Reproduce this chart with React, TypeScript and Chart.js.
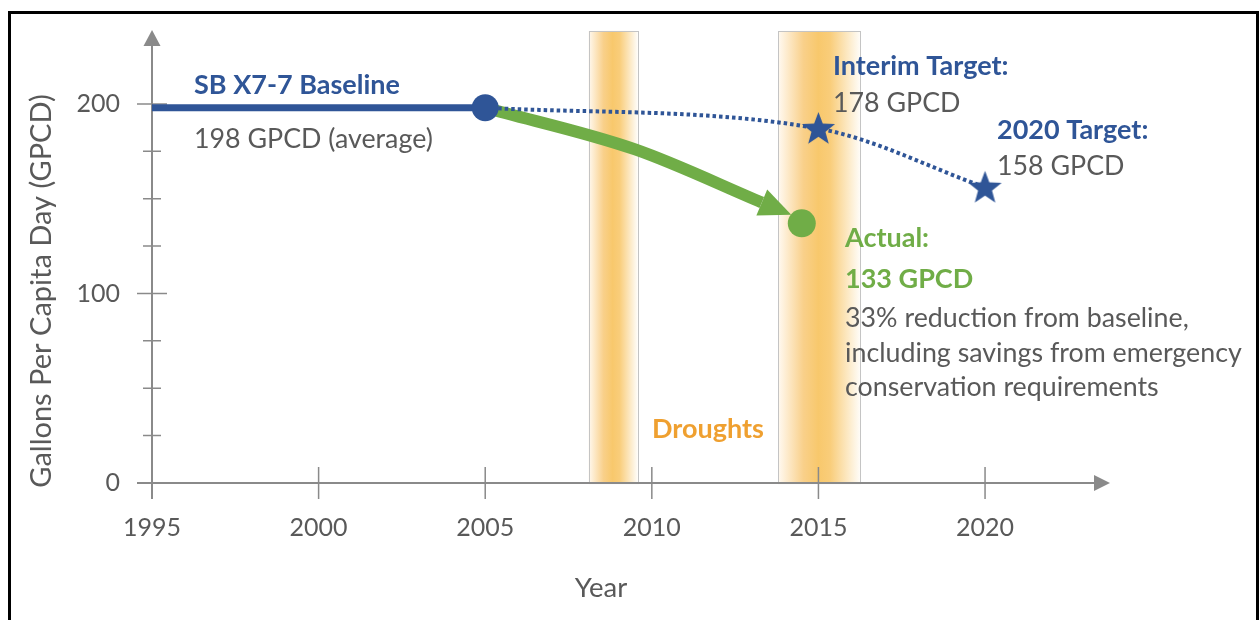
import React, { useEffect, useRef } from "react";
import { Chart, registerables } from "chart.js";

Chart.register(...registerables);

// ---- data ----
const baselineYears = [1995, 2005];
const baselineValues = [198, 198];
const targetYears = [2005, 2015, 2020];
const targetValues = [198, 187, 156];
const actualPathYears = [2005, 2009.5, 2013.3];
const actualPathValues = [198, 176, 148];
const actualPointYears = [2014.5];
const actualPointValues = [137];
const droughtStarts = [2008.1, 2013.8];
const droughtEnds = [2009.6, 2016.3];
const bandTop = 238.5;
const xTicks = [1995, 2000, 2005, 2010, 2015, 2020];
const yMajorTicks = [0, 100, 200];
const yMinorTicks = [25, 50, 75, 125, 150, 175];
const xMin = 1995;
const xMax = 2023.75;
const yMin = 0;
const yMax = 239;

const BLUE = "#2F5597";
const GREEN = "#70AD47";
const ORANGE = "#EFA030";
const GREY_TEXT = "#595959";
const AXIS = "#8A8A8A";
const FONT = "Lato, 'Open Sans', sans-serif";

function zip(xs: number[], ys: number[]) {
  return xs.map((x, i) => ({ x, y: ys[i] }));
}

function makeStar(r: number, color: string) {
  const c = document.createElement("canvas");
  const s = Math.ceil(r * 2 + 2);
  c.width = s;
  c.height = s;
  const ctx = c.getContext("2d")!;
  ctx.fillStyle = color;
  ctx.beginPath();
  const cx = s / 2;
  const cy = s / 2 + 1;
  const inner = r * 0.42;
  for (let i = 0; i < 10; i++) {
    const rad = i % 2 === 0 ? r : inner;
    const a = -Math.PI / 2 + (i * Math.PI) / 5;
    const px = cx + rad * Math.cos(a);
    const py = cy + rad * Math.sin(a);
    if (i === 0) ctx.moveTo(px, py);
    else ctx.lineTo(px, py);
  }
  ctx.closePath();
  ctx.fill();
  return c;
}

const decorPlugin = {
  id: "decor",
  beforeDatasetsDraw(chart: any) {
    const { ctx, scales } = chart;
    const x = scales.x;
    const y = scales.y;
    const x0 = x.getPixelForValue(xMin);
    const y0 = y.getPixelForValue(0);
    ctx.save();
    // drought bands
    droughtStarts.forEach((s, i) => {
      const l = x.getPixelForValue(s);
      const r = x.getPixelForValue(droughtEnds[i]);
      const t = y.getPixelForValue(bandTop);
      const g = ctx.createLinearGradient(l, 0, r, 0);
      g.addColorStop(0, "#FFF9F0");
      g.addColorStop(0.3, "#F9D08A");
      g.addColorStop(0.48, "#F8C86C");
      g.addColorStop(0.62, "#F9CD7A");
      g.addColorStop(1, "#FFFFFF");
      ctx.fillStyle = g;
      ctx.fillRect(l, t, r - l, y0 - t);
      ctx.strokeStyle = "#C4C4C4";
      ctx.lineWidth = 1;
      ctx.strokeRect(Math.round(l) + 0.5, Math.round(t) + 0.5, Math.round(r - l) - 1, y0 - t);
    });

    // axes
    ctx.strokeStyle = AXIS;
    ctx.fillStyle = AXIS;
    ctx.lineWidth = 2;
    const top = chart.chartArea.top;
    const right = chart.chartArea.right;
    ctx.beginPath();
    ctx.moveTo(x0, top + 14);
    ctx.lineTo(x0, y0 + 16);
    ctx.moveTo(x0 - 15, y0);
    ctx.lineTo(right - 14, y0);
    ctx.stroke();
    // arrowheads
    ctx.beginPath();
    ctx.moveTo(x0, top);
    ctx.lineTo(x0 - 8.5, top + 16);
    ctx.lineTo(x0 + 8.5, top + 16);
    ctx.closePath();
    ctx.fill();
    ctx.beginPath();
    ctx.moveTo(right, y0);
    ctx.lineTo(right - 16, y0 - 8);
    ctx.lineTo(right - 16, y0 + 8);
    ctx.closePath();
    ctx.fill();
    // ticks
    ctx.lineWidth = 1.5;
    ctx.beginPath();
    yMajorTicks.forEach((v) => {
      const p = y.getPixelForValue(v);
      ctx.moveTo(x0 - 15, p);
      ctx.lineTo(x0 + 15, p);
    });
    yMinorTicks.forEach((v) => {
      const p = y.getPixelForValue(v);
      ctx.moveTo(x0 - 9, p);
      ctx.lineTo(x0 + 9, p);
    });
    xTicks.forEach((v) => {
      if (v === xMin) return;
      const p = x.getPixelForValue(v);
      ctx.moveTo(p, y0 - 16);
      ctx.lineTo(p, y0 + 16);
    });
    ctx.stroke();

    // tick labels
    ctx.fillStyle = GREY_TEXT;
    ctx.font = `25px ${FONT}`;
    ctx.textAlign = "right";
    ctx.textBaseline = "middle";
    yMajorTicks.forEach((v) => {
      ctx.fillText(String(v), x0 - 32, y.getPixelForValue(v));
    });
    ctx.textAlign = "center";
    ctx.textBaseline = "alphabetic";
    xTicks.forEach((v) => {
      ctx.fillText(String(v), x.getPixelForValue(v), y0 + 53);
    });
    // axis titles
    ctx.font = `27.5px ${FONT}`;
    ctx.fillText("Year", 601, 597);
    ctx.save();
    ctx.font = `29px ${FONT}`;
    ctx.translate(42, 291);
    ctx.rotate(-Math.PI / 2);
    ctx.textBaseline = "middle";
    ctx.fillText("Gallons Per Capita Day (GPCD)", 0, 0);
    ctx.restore();
    ctx.restore();
  },
  afterDatasetsDraw(chart: any) {
    const { ctx } = chart;
    // arrowhead on green path
    const meta = chart.getDatasetMeta(3);
    const pts = meta.data;
    const last = pts[pts.length - 1];
    let dx = last.x - (last.cp1x ?? pts[pts.length - 2].x);
    let dy = last.y - (last.cp1y ?? pts[pts.length - 2].y);
    const len = Math.hypot(dx, dy) || 1;
    dx /= len;
    dy /= len;
    const L = 32;
    const W = 14;
    ctx.save();
    ctx.fillStyle = GREEN;
    ctx.beginPath();
    ctx.moveTo(last.x + dx * L, last.y + dy * L);
    ctx.lineTo(last.x - dy * W, last.y + dx * W);
    ctx.lineTo(last.x + dy * W, last.y - dx * W);
    ctx.closePath();
    ctx.fill();
    ctx.restore();
  },
  afterDraw(chart: any) {
    const { ctx } = chart;
    ctx.save();
    ctx.textAlign = "left";
    ctx.textBaseline = "alphabetic";
    const put = (t: string, px: number, py: number, color: string, bold: boolean) => {
      ctx.font = `${bold ? "bold 27px" : "26.8px"} ${FONT}`;
      ctx.fillStyle = color;
      ctx.fillText(t, px, py);
    };
    put("SB X7-7 Baseline", 194, 94, BLUE, true);
    put("198 GPCD (average)", 194, 148, GREY_TEXT, false);
    put("Interim Target:", 833, 75, BLUE, true);
    put("178 GPCD", 833, 112, GREY_TEXT, false);
    put("2020 Target:", 997, 139, BLUE, true);
    put("158 GPCD", 997, 175, GREY_TEXT, false);
    put("Actual:", 845, 247, GREEN, true);
    put("133 GPCD", 845, 288, GREEN, true);
    put("33% reduction from baseline,", 845, 327, GREY_TEXT, false);
    put("including savings from emergency", 845, 362, GREY_TEXT, false);
    put("conservation requirements", 845, 396, GREY_TEXT, false);
    put("Droughts", 652, 438, ORANGE, true);
    ctx.restore();
  },
};

export default function App() {
  const ref = useRef<HTMLCanvasElement | null>(null);
  useEffect(() => {
    if (!ref.current) return;
    const star = makeStar(17.5, BLUE);
    const chart = new Chart(ref.current, {
      type: "line",
      data: {
        datasets: [
          {
            label: "Baseline",
            data: zip(baselineYears, baselineValues),
            borderColor: BLUE,
            backgroundColor: BLUE,
            borderWidth: 7,
            pointRadius: (c: any) => (c.dataIndex === 1 ? 13.5 : 0),
            pointBorderWidth: 0,
            pointBackgroundColor: BLUE,
          },
          {
            label: "Actual",
            data: zip(actualPointYears, actualPointValues),
            showLine: false,
            pointRadius: 14,
            pointBorderWidth: 0,
            pointBackgroundColor: GREEN,
            borderColor: GREEN,
          },
          {
            label: "Targets",
            data: zip(targetYears, targetValues),
            borderColor: BLUE,
            borderWidth: 4,
            borderDash: [3.5, 3],
            cubicInterpolationMode: "monotone",
            pointStyle: (c: any) => (c.dataIndex === 0 ? "circle" : star),
            pointRadius: (c: any) => (c.dataIndex === 0 ? 0 : 10),
          },
          {
            label: "Actual path",
            data: zip(actualPathYears, actualPathValues),
            borderColor: GREEN,
            borderWidth: 12,
            borderCapStyle: "butt",
            cubicInterpolationMode: "monotone",
            pointRadius: 0,
          },
        ],
      } as any,
      options: {
        animation: false,
        responsive: false,
        layout: { padding: { left: 152, right: 149, top: 30, bottom: 137 } },
        scales: {
          x: { type: "linear", min: xMin, max: xMax, display: false },
          y: { type: "linear", min: yMin, max: yMax, display: false },
        },
        plugins: {
          legend: { display: false },
          tooltip: { enabled: false },
          title: { display: false },
        },
        events: [],
      } as any,
      plugins: [decorPlugin],
    });
    return () => chart.destroy();
  }, []);

  return (
    <div>
      <div
        style={{
          position: "fixed",
          left: 0,
          top: 0,
          width: 1259,
          height: 620,
          background: "#fff",
        }}
      >
        <canvas ref={ref} width={1259} height={620} style={{ width: 1259, height: 620 }} />
      </div>
      <div
        style={{
          position: "fixed",
          left: 8,
          top: 11,
          width: 1251,
          height: 700,
          boxSizing: "border-box",
          border: "3px solid #000",
          pointerEvents: "none",
        }}
      />
    </div>
  );
}
